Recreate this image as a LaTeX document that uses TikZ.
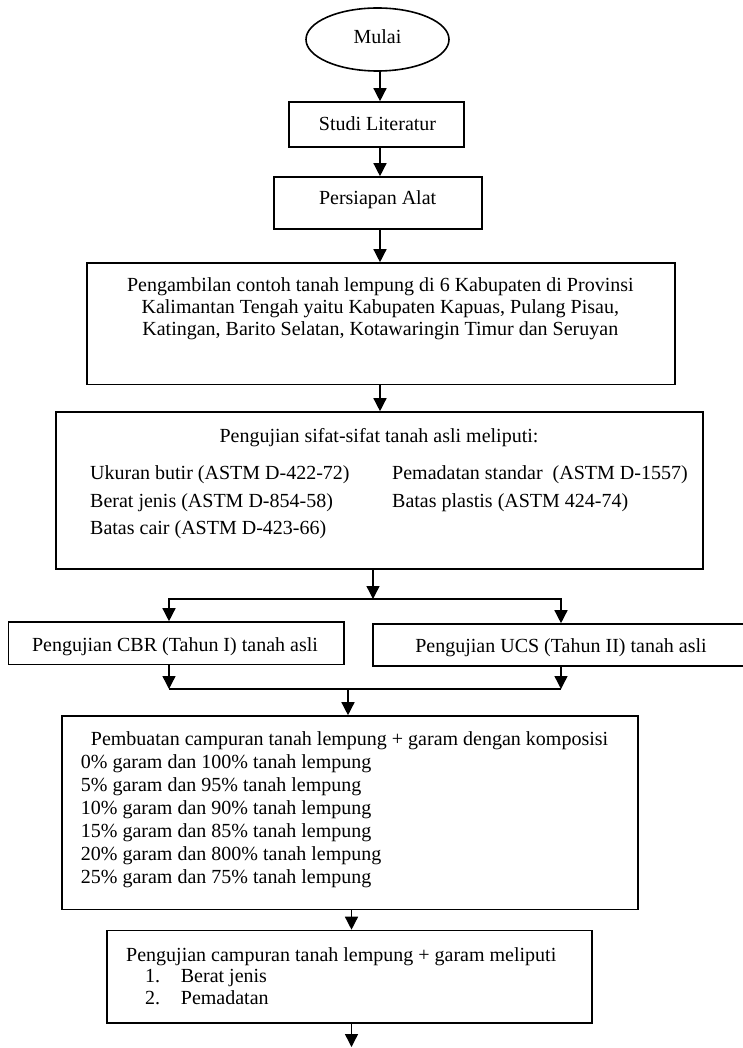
\documentclass[tikz,border=0pt]{standalone}
\usepackage{fontspec}
\setmainfont{Liberation Serif}
\usetikzlibrary{shapes.geometric,arrows.meta,fit}
\tikzset{
  box/.style={draw, line width=1.6pt, inner sep=0pt},
  txt/.style={inner sep=0pt, font=\fontsize{20}{23}\selectfont},
  arr/.style={line width=1.4pt, -{Triangle[length=13pt,width=13pt]}},
  ln/.style={line width=1.4pt},
}
\begin{document}
\begin{tikzpicture}[x=1pt,y=-1pt]
\fill[white] (0,0) rectangle (742,1048);
\useasboundingbox (0,0) rectangle (742,1048);

% guide coordinates
\coordinate (g1) at (380,0);
\coordinate (g2) at (373,0);
\coordinate (gL) at (169,0);
\coordinate (gR) at (561,0);
\coordinate (g3) at (348,0);
\coordinate (g4) at (351.5,0);
\coordinate (s1) at (0,599);
\coordinate (s2) at (0,689);
\coordinate (endpt) at (351.5,1047);

% shapes
\node[draw, ellipse, line width=1.6pt, minimum width=143pt, minimum height=63pt, inner sep=0pt] (start) at (377.5,39.5) {};
\node[box, fit={(289,102) (464,147)}] (studi) {};
\node[box, fit={(274,177) (482,229)}] (persiapan) {};
\node[box, fit={(86.7,263) (675,384.5)}] (ambil) {};
\node[box, fit={(56,412) (703,569)}] (sifat) {};
\node[box, fit={(8.5,622) (344,664.5)}] (cbr) {};
\node[box, fit={(373,624) (760,666)}] (ucs) {};
\node[box, fit={(61.7,716) (638,909.5)}] (buat) {};
\node[box, fit={(106.7,930.5) (592,1023)}] (uji) {};

% texts
\node[txt, anchor=base] (tmulai) at (377.5,43.3) {Mulai};
\node[txt, anchor=base] (tstudi) at (377.5,131) {Studi Literatur};
\node[txt, anchor=base] (tpers) at (377.6,205) {Persiapan Alat};

\node[txt, anchor=base] (ta1) at (380.3,291.7) {Pengambilan contoh tanah lempung di 6 Kabupaten di Provinsi};
\node[txt, anchor=base] (ta2) at (380.3,313.3) {Kalimantan Tengah yaitu Kabupaten Kapuas, Pulang Pisau,};
\node[txt, anchor=base] (ta3) at (380.3,335) {Katingan, Barito Selatan, Kotawaringin Timur dan Seruyan};

\node[txt, anchor=base] (ts0) at (379,442) {Pengujian sifat-sifat tanah asli meliputi:};
\node[txt, anchor=base west] (ts1) at (90,479) {Ukuran butir (ASTM D-422-72)};
\node[txt, anchor=base west] (ts2) at (90,507) {Berat jenis (ASTM D-854-58)};
\node[txt, anchor=base west] (ts3) at (90,534) {Batas cair (ASTM D-423-66)};
\node[txt, anchor=base west] (ts4) at (392,479) {Pemadatan standar~ (ASTM D-1557)};
\node[txt, anchor=base west] (ts5) at (392,507) {Batas plastis (ASTM 424-74)};

\node[txt, anchor=base] (tcbr) at (175,651.5) {Pengujian CBR (Tahun I) tanah asli};
\node[txt, anchor=base] (tucs) at (561,652.5) {Pengujian UCS (Tahun II) tanah asli};

\node[txt, anchor=base west] (tb0) at (90.7,745.7) {Pembuatan campuran tanah lempung + garam dengan komposisi};
\node[txt, anchor=base west] (tb1) at (80.7,768.5) {0\% garam dan 100\% tanah lempung};
\node[txt, anchor=base west] (tb2) at (80.7,791.5) {5\% garam dan 95\% tanah lempung};
\node[txt, anchor=base west] (tb3) at (80.7,814.5) {10\% garam dan 90\% tanah lempung};
\node[txt, anchor=base west] (tb4) at (80.7,837.5) {15\% garam dan 85\% tanah lempung};
\node[txt, anchor=base west] (tb5) at (80.7,860.5) {20\% garam dan 800\% tanah lempung};
\node[txt, anchor=base west] (tb6) at (80.7,883.5) {25\% garam dan 75\% tanah lempung};

\node[txt, anchor=base west] (tu0) at (126,961) {Pengujian campuran tanah lempung + garam meliputi};
\node[txt, anchor=base west] (tu1n) at (145,982.5) {1.};
\node[txt, anchor=base west] (tu1) at (180.7,982.5) {Berat jenis};
\node[txt, anchor=base west] (tu2n) at (145,1004.5) {2.};
\node[txt, anchor=base west] (tu2) at (180.7,1004.5) {Pemadatan};

% connectors
\draw[arr] (start.south -| g1) -- (studi.north -| g1);
\draw[arr] (studi.south -| g1) -- (persiapan.north -| g1);
\draw[arr] (persiapan.south -| g1) -- (ambil.north -| g1);
\draw[arr] (ambil.south -| g1) -- (sifat.north -| g1);
\draw[arr] (sifat.south -| g2) -- (g2 |- s1);
\draw[line width=1.4pt, {Triangle[length=13pt,width=13pt]}-{Triangle[length=13pt,width=13pt]}]
  (cbr.north -| gL) -- (gL |- s1) -- (gR |- s1) -- (ucs.north -| gR);
\draw[arr] (cbr.south -| gL) -- (gL |- s2);
\draw[arr] (ucs.south -| gR) -- (gR |- s2);
\draw[ln] (gL |- s2) -- (gR |- s2);
\draw[arr] (g3 |- s2) -- (buat.north -| g3);
\draw[arr] (buat.south -| g4) -- (uji.north -| g4);
\draw[arr] (uji.south -| g4) -- (endpt);
\end{tikzpicture}
\end{document}
